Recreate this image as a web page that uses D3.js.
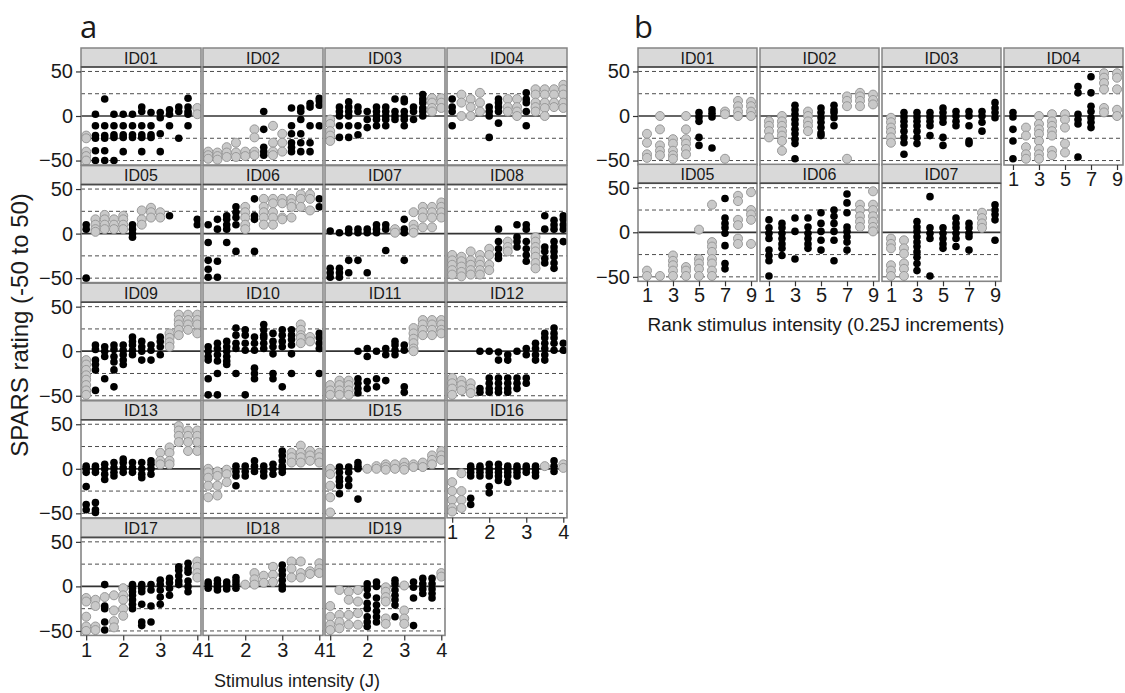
<!DOCTYPE html>
<html>
<head>
<meta charset="utf-8">
<script src="https://cdn.jsdelivr.net/npm/d3@7"></script>
<style>
body { margin: 0; background: #fff; }
text { font-family: "Liberation Sans", Arial, sans-serif; fill: #1a1a1a; }
</style>
</head>
<body>
<script>
//each panel: [intensity, group, ratings]  group 'k' = black, 'g' = grey
var a01 = [[1,'g',[-22,-25,-40,-45,-50]],[1.25,'k',[2,-11,-22,-25,-39,-50]],[1.5,'k',[19,-11,-22,-25,-39,-50]],[1.75,'k',[2,-11,-21,-24,-50]],[2,'k',[2,-11,-21,-24,-40]],[2.25,'k',[2,-11,-21,-24]],[2.5,'k',[10,5,-11,-21,-24,-40]],[2.75,'k',[4,-11,-21,-24]],[3,'k',[4,-2,-20,-40]],[3.25,'k',[7,2,-11]],[3.5,'k',[10,5,-25]],[3.75,'k',[20,10,5,2,-11]],[4,'g',[9,2]]];
var a02 = [[1,'g',[-40,-44,-48]],[1.25,'g',[-41,-45,-49]],[1.5,'g',[-35,-41,-46]],[1.75,'g',[-30,-41,-46]],[2,'g',[-40,-45]],[2.25,'g',[-15,-24,-40,-44]],[2.5,'k',[5,-15,-35,-40,-44]],[2.75,'g',[-11,-30,-40,-44]],[3,'g',[-20,-30,-40]],[3.25,'k',[9,-11,-20,-30,-35,-40]],[3.5,'k',[9,5,-4,-20,-30,-40]],[3.75,'k',[14,10,-11,-30,-40]],[4,'k',[20,17,12,-11]]];
var a03 = [[1,'g',[-4,-9,-17,-22,-28]],[1.25,'k',[10,5,0,-11,-24]],[1.5,'k',[16,10,5,0,-11,-24]],[1.75,'k',[10,5,-11,-21]],[2,'k',[5,-4,-13]],[2.25,'k',[10,5,0,-4,-11]],[2.5,'k',[10,5,0,-4,-11]],[2.75,'k',[19,5,0,-4]],[3,'k',[19,16,5,0,-4,-11]],[3.25,'k',[10,5,-4]],[3.5,'k',[24,19,15,9,5,0]],[3.75,'g',[20,15,9,5]],[4,'g',[20,15,9]]];
var a04 = [[1,'k',[19,10,5,-11]],[1.25,'g',[24,15,0]],[1.5,'g',[19,10,0]],[1.75,'g',[26,15,5]],[2,'k',[10,5,0,-24]],[2.25,'k',[19,15,10,5,-8]],[2.5,'g',[19,10,5]],[2.75,'g',[19,10,5,0]],[3,'k',[26,19,15,5,-11]],[3.25,'g',[30,24,15,10,5]],[3.5,'g',[30,24,15,9,0]],[3.75,'g',[30,24,15,10]],[4,'g',[35,30,24,15,9]]];
var a05 = [[1,'k',[10,5,-50]],[1.25,'g',[16,10,5,2]],[1.5,'g',[21,16,10,5]],[1.75,'g',[16,10,5]],[2,'g',[20,16,10,5]],[2.25,'k',[10,5,0,-4]],[2.5,'g',[26,16,10]],[2.75,'g',[29,24,18]],[3,'g',[24,18]],[3.25,'k',[20]],[4,'k',[16,10]]];
var a06 = [[1,'k',[10,-10,-30,-40,-49]],[1.25,'k',[16,5,-31,-49]],[1.5,'k',[20,16,10,5,-10]],[1.75,'k',[30,24,18,10,-20]],[2,'g',[30,24,18,10,5]],[2.25,'k',[39,20,16,-20]],[2.5,'g',[39,30,24,18,10]],[2.75,'g',[39,34,24,18,10]],[3,'g',[39,34,18,16]],[3.25,'g',[39,34,30,18]],[3.5,'g',[44,39,30]],[3.75,'g',[44,39,26]],[4,'k',[39,30]]];
var a07 = [[1,'k',[3,-39,-44,-49]],[1.25,'k',[1,-39,-44,-49]],[1.5,'k',[5,1,-30,-44]],[1.75,'k',[5,1,-30]],[2,'k',[5,1,-44]],[2.25,'k',[10,5,1]],[2.5,'k',[10,5,-19]],[2.75,'g',[5,1]],[3,'k',[16,5,1,-30]],[3.25,'g',[24,10,5,1]],[3.5,'g',[30,24,18,7]],[3.75,'g',[30,24,18,7]],[4,'g',[35,30,24,18]]];
var a08 = [[1,'g',[-24,-30,-35,-41,-46]],[1.25,'g',[-26,-31,-37,-43,-48]],[1.5,'g',[-20,-30,-35,-41,-46]],[1.75,'g',[-24,-30,-35,-41,-46]],[2,'g',[-17,-24,-35,-41]],[2.25,'k',[5,-9,-17,-24,-28]],[2.5,'g',[-9,-15,-20]],[2.75,'k',[10,-4,-9,-15]],[3,'k',[10,5,-9,-17,-24,-31]],[3.25,'g',[-4,-9,-15,-20,-26,-33,-39]],[3.5,'k',[20,5,-15,-20,-28,-33]],[3.75,'k',[15,10,5,-9,-15,-20,-26,-33,-39]],[4,'k',[20,16,10,5,-9]]];
var a09 = [[1,'g',[-10,-15,-21,-27,-32,-38,-44,-49]],[1.25,'k',[7,2,-10,-15,-21,-44]],[1.5,'k',[5,0,-6,-31]],[1.75,'k',[7,2,-6,-12,-21,-40]],[2,'k',[7,1,-4,-10,-15]],[2.25,'k',[16,11,7,1,-4]],[2.5,'k',[11,5,0,-10]],[2.75,'k',[7,1,-10]],[3,'k',[16,11,5,-4]],[3.25,'g',[20,15,10,5]],[3.5,'g',[41,35,30,24,18]],[3.75,'g',[41,35,30,24]],[4,'g',[41,35,30,20]]];
var a10 = [[1,'k',[5,0,-6,-10,-31,-49]],[1.25,'k',[9,3,-4,-11,-25,-49]],[1.5,'k',[11,5,0,-6,-11,-15]],[1.75,'k',[26,18,9,3,-25]],[2,'k',[24,18,9,1,-49]],[2.25,'k',[16,9,1,-19,-25,-31]],[2.5,'k',[30,24,18,15,9,3]],[2.75,'k',[20,11,5,-3,-25,-31]],[3,'k',[24,18,11,5,-40]],[3.25,'k',[24,18,13,7,-3,-25]],[3.5,'g',[30,24,18,15,9]],[3.75,'g',[16,11]],[4,'k',[20,15,9,3,-25]]];
var a11 = [[1,'g',[-38,-44,-49]],[1.25,'g',[-33,-38,-44,-49]],[1.5,'g',[-33,-38,-44,-49]],[1.75,'k',[0,-31,-36,-42,-47]],[2,'k',[3,-6,-34,-42]],[2.25,'k',[0,-31,-40]],[2.5,'k',[3,-4,-33]],[2.75,'k',[11,7,1,-4]],[3,'k',[7,1,-40,-46]],[3.25,'g',[26,20,14,9,3,0]],[3.5,'g',[35,30,24,18]],[3.75,'g',[35,30,24,18]],[4,'g',[35,30,24,20]]];
var a12 = [[1,'g',[-30,-36,-42,-49]],[1.25,'g',[-33,-38,-44]],[1.5,'g',[-36,-42,-47]],[1.75,'k',[0,-42,-46]],[2,'k',[0,-30,-36,-42,-46]],[2.25,'k',[-1,-10,-30,-36,-42,-46]],[2.5,'k',[-4,-10,-30,-36,-42,-46]],[2.75,'k',[0,-30,-36,-42]],[3,'k',[3,-4,-30,-36]],[3.25,'k',[9,3,-4,-10]],[3.5,'k',[20,15,9,3,-4,-10]],[3.75,'k',[26,20,15,9,1]],[4,'k',[9,1]]];
var a13 = [[1,'k',[3,0,-4,-20,-40,-46]],[1.25,'k',[3,0,-4,-38,-46,-49]],[1.5,'k',[5,0,-6,-12]],[1.75,'k',[7,1,-4,-8]],[2,'k',[11,7,1,-4]],[2.25,'k',[7,1,-4]],[2.5,'k',[7,0,-6,-10]],[2.75,'k',[9,5,0,-6]],[3,'g',[18,9,5]],[3.25,'g',[24,18,9,5]],[3.5,'g',[48,43,37,30]],[3.75,'g',[43,37,30,20]],[4,'g',[43,37,30,20]]];
var a14 = [[1,'g',[0,-4,-10,-19,-32]],[1.25,'g',[-3,-8,-19,-30]],[1.5,'g',[-1,-6,-15]],[1.75,'k',[3,-3,-8,-19]],[2,'k',[3,-3,-8]],[2.25,'k',[9,3,-3]],[2.5,'k',[3,-3,-8]],[2.75,'k',[5,0,-6]],[3,'k',[20,15,9,3,0,-4]],[3.25,'g',[18,13,7]],[3.5,'g',[26,18,13,7]],[3.75,'g',[20,15,9]],[4,'g',[18,13,7]]];
var a15 = [[1,'g',[0,-6,-19,-32,-49]],[1.25,'k',[2,-4,-10,-14,-19,-28]],[1.5,'k',[2,-4,-12,-19]],[1.75,'k',[7,3,0,-34]],[2,'g',[0]],[2.25,'g',[3,0]],[2.5,'g',[5,2,-1]],[2.75,'g',[5,0]],[3,'g',[7,2,-1]],[3.25,'g',[5,2]],[3.5,'g',[7,2]],[3.75,'g',[15,10,5]],[4,'g',[20,15,10]]];
var a16 = [[1,'g',[-15,-25,-35,-44,-48]],[1.25,'g',[-5,-25,-35,-44]],[1.5,'k',[3,0,-4,-8,-33,-40]],[1.75,'k',[3,0,-4,-8]],[2,'k',[5,0,-4,-8,-20,-27]],[2.25,'k',[5,0,-4,-8,-13]],[2.5,'k',[3,0,-4,-8,-15]],[2.75,'k',[3,0,-4,-8]],[3,'k',[3,0,-4]],[3.25,'k',[3,0,-4,-8]],[3.5,'g',[3]],[3.75,'k',[9,3,-3]],[4,'g',[5,1]]];
var a17 = [[1,'g',[-13,-17,-34,-45,-50]],[1.25,'g',[-15,-22,-45,-49]],[1.5,'k',[2,-22,-25,-40,-49]],[1.5,'g',[-12]],[1.75,'g',[-10,-27,-39,-46]],[2,'g',[-2,-10,-15,-25,-33]],[2.25,'k',[2,-2,-6,-10,-15,-20,-25]],[2.5,'k',[2,-2,-6,-20,-40,-44]],[2.75,'k',[2,-4,-22,-40]],[3,'k',[7,2,-4,-12,-20]],[3.25,'k',[9,4,-2,-10]],[3.5,'k',[22,18,12,6,2]],[3.75,'k',[26,20,16,6,0,-6]],[4,'g',[28,22,15,10]]];
var a18 = [[1,'k',[5,2,-2]],[1.25,'k',[7,3,-1,-4]],[1.5,'k',[5,1,-3]],[1.75,'k',[10,6,2,-2]],[2,'g',[2]],[2.25,'g',[15,8,2]],[2.5,'g',[12,4]],[2.75,'g',[22,13,5]],[3,'k',[24,18,13,7,1,-3]],[3.25,'g',[28,20,10]],[3.5,'g',[28,15,10]],[3.75,'g',[17,14]],[4,'g',[26,20,15]]];
var a19 = [[1,'g',[-22,-34,-43,-49]],[1.25,'g',[-4,-32,-40,-47]],[1.5,'g',[-6,-15,-32,-43]],[1.75,'g',[-4,-17,-30,-43]],[2,'k',[3,-3,-10,-19,-25,-34,-40,-45]],[2.25,'k',[5,0,-13,-21,-28,-34,-40]],[2.5,'g',[-1,-6,-12,-17,-36,-42]],[2.75,'k',[7,3,-4,-10,-15,-21,-34]],[3,'g',[1,-27,-36,-42]],[3.25,'k',[5,-1,-13,-44]],[3.5,'k',[9,3,-3,-8]],[3.75,'k',[9,3,-3,-8,-13]],[4,'g',[15,11]]];

//panel b: [rank, group, ratings]
var b01 = [[1,'g',[-20,-30,-43,-47]],[2,'g',[0,-15,-33,-39,-44]],[3,'g',[-26,-31,-39,-44,-48]],[4,'g',[0,-15,-26,-31,-37,-43]],[5,'k',[4,-1,-6,-24,-33]],[6,'k',[7,3,-1,-36]],[7,'g',[5,2,-48]],[8,'g',[17,11,5,0]],[9,'g',[16,11,5,0]]];
var b02 = [[1,'g',[-6,-11,-17,-24]],[2,'g',[0,-6,-11,-17,-22,-28,-39]],[3,'k',[12,7,2,-4,-9,-15,-20,-26,-31,-48]],[4,'g',[5,0,-6,-11,-17]],[5,'k',[9,4,-2,-7,-13,-19,-22]],[6,'k',[12,7,4,-2,-11]],[7,'g',[22,17,11,-48]],[8,'g',[26,22,17,11]],[9,'g',[24,18,13]]];
var b03 = [[1,'g',[-2,-7,-13,-18,-24,-30]],[2,'k',[4,-1,-6,-11,-17,-24,-30,-43]],[3,'k',[4,-1,-6,-11,-17,-24,-31]],[4,'k',[4,-1,-6,-11,-22]],[5,'k',[9,4,-2,-7,-24,-33]],[6,'k',[5,0,-6,-11]],[7,'k',[5,0,-11,-28,-31]],[8,'k',[5,0,-7,-17]],[9,'k',[15,9,4,-2]]];
var b04 = [[1,'k',[4,-1,-15,-28,-48]],[2,'g',[-13,-22,-35,-43,-48]],[3,'g',[0,-9,-15,-20,-28,-37,-43,-48]],[4,'g',[2,-6,-11,-17,-22,-39,-44]],[5,'g',[2,-4,-13,-31,-41]],[6,'k',[33,26,2,-4,-9,-46]],[7,'k',[44,26,11,5,-2,-7,-13]],[8,'g',[48,43,37,30,9,4]],[9,'g',[48,43,30,7,0]]];
var b05 = [[1,'g',[-43,-49]],[2,'g',[-49]],[3,'g',[-26,-32,-37,-43,-49]],[4,'g',[-39,-43,-49]],[5,'g',[3,-30,-35,-41,-49]],[6,'g',[31,-11,-16,-22,-30,-35,-43,-49]],[7,'k',[38,16,10,5,-1,-15,-35,-41]],[8,'g',[41,35,14,8,-7,-13]],[9,'g',[45,25,20,14,-13]]];
var b06 = [[1,'k',[14,5,-1,-7,-20,-26,-32,-49]],[2,'k',[10,5,-1,-7,-13,-18,-26]],[3,'k',[16,1,-30]],[4,'k',[16,6,-1,-7,-13,-18]],[5,'k',[22,10,1,-9,-20]],[6,'k',[25,18,10,1,-9,-32]],[7,'k',[43,33,22,6,1,-5,-11,-20]],[8,'g',[31,25,18,12,6]],[9,'g',[46,31,25,18,12,6,1]]];
var b07 = [[1,'g',[-7,-13,-18,-37,-43,-49]],[2,'g',[-9,-18,-24,-35,-41,-49]],[3,'k',[12,6,1,-5,-11,-16,-22,-28,-35,-43]],[4,'k',[40,5,-1,-7,-49]],[5,'k',[5,-1,-7,-13,-18]],[6,'k',[16,10,5,-1,-7,-16]],[7,'k',[10,5,-1,-5,-20]],[8,'g',[22,16,10,5]],[9,'k',[31,25,20,14,-9]]];

var aIds = ["ID01","ID02","ID03","ID04","ID05","ID06","ID07","ID08","ID09","ID10","ID11","ID12","ID13","ID14","ID15","ID16","ID17","ID18","ID19"];
var aData = [a01,a02,a03,a04,a05,a06,a07,a08,a09,a10,a11,a12,a13,a14,a15,a16,a17,a18,a19];
var bIds = ["ID01","ID02","ID03","ID04","ID05","ID06","ID07"];
var bData = [b01,b02,b03,b04,b05,b06,b07];

var aXTicks = [1, 2, 3, 4],
	bXTicks = [1, 3, 5, 7, 9],
	yTicks = [-50, 0, 50],
	dashLevels = [-50, -25, 25, 50];

var width = 1125, height = 693;

var svg = d3.select("body").append("svg")
	.attr("width", width)
	.attr("height", height);

//draw one faceted block of panels
function facet(cfg){
	var n = cfg.ids.length,
		stripH = 19,
		plotH = 98;

	var x = d3.scaleLinear().domain(cfg.xDomain).range([0, cfg.panelW]);
	var y = d3.scaleLinear().domain([-55, 55]).range([plotH, 0]);

	cfg.ids.forEach(function(id, i){
		var col = i % 4,
			row = Math.floor(i / 4),
			gx = cfg.left + col * cfg.colStep,
			gy = cfg.top + row * cfg.rowStep;

		var g = svg.append("g").attr("transform", "translate(" + gx + "," + gy + ")");

		//strip
		g.append("rect")
			.attr("width", cfg.panelW).attr("height", stripH)
			.attr("fill", "#d9d9d9").attr("stroke", "#858585").attr("stroke-width", 1.5);
		g.append("text")
			.attr("x", cfg.panelW / 2).attr("y", stripH / 2 + 6)
			.attr("text-anchor", "middle")
			.style("font-size", "16px")
			.text(id);

		var p = g.append("g").attr("transform", "translate(0," + stripH + ")");
		var clipId = "clip-" + cfg.key + i;
		p.append("clipPath").attr("id", clipId)
			.append("rect").attr("width", cfg.panelW).attr("height", plotH);

		p.append("rect").attr("width", cfg.panelW).attr("height", plotH).attr("fill", "#fff");

		//dashed reference lines
		p.selectAll(".dash").data(dashLevels).enter().append("line")
			.attr("x1", 0).attr("x2", cfg.panelW)
			.attr("y1", function(d){ return y(d); })
			.attr("y2", function(d){ return y(d); })
			.attr("stroke", "#4d4d4d").attr("stroke-width", 1)
			.attr("stroke-dasharray", "4,3");
		p.append("line")
			.attr("x1", 0).attr("x2", cfg.panelW)
			.attr("y1", y(0)).attr("y2", y(0))
			.attr("stroke", "#333").attr("stroke-width", 1.7);

		//points
		var pts = [];
		cfg.data[i].forEach(function(c){
			c[2].forEach(function(v){ pts.push({x: c[0], y: v, g: c[1]}); });
		});
		var pg = p.append("g").attr("clip-path", "url(#" + clipId + ")");
		pg.selectAll(".grey").data(pts.filter(function(d){ return d.g === 'g'; }))
			.enter().append("circle")
			.attr("cx", function(d){ return x(d.x); })
			.attr("cy", function(d){ return y(d.y); })
			.attr("r", 4.5)
			.attr("fill", "#c9c9c9").attr("stroke", "#999").attr("stroke-width", 1);
		pg.selectAll(".blk").data(pts.filter(function(d){ return d.g === 'k'; }))
			.enter().append("circle")
			.attr("cx", function(d){ return x(d.x); })
			.attr("cy", function(d){ return y(d.y); })
			.attr("r", 3.8)
			.attr("fill", "#000");

		//panel border and strip separator
		p.append("rect").attr("width", cfg.panelW).attr("height", plotH)
			.attr("fill", "none").attr("stroke", "#858585").attr("stroke-width", 1.6);
		g.append("line")
			.attr("x1", 0).attr("x2", cfg.panelW)
			.attr("y1", stripH).attr("y2", stripH)
			.attr("stroke", "#4a4a4a").attr("stroke-width", 1.5);

		//axes
		if (col === 0) {
			var ya = p.append("g")
				.call(d3.axisLeft(y).tickValues(yTicks).tickSize(5).tickPadding(3).tickFormat(d3.format("d")));
			ya.select(".domain").remove();
			ya.selectAll("line").attr("stroke", "#333").attr("stroke-width", 1.2);
			ya.selectAll("text").style("font-size", "20px").attr("fill", "#1a1a1a");
		}
		if (i + 4 >= n) {
			var xa = p.append("g").attr("transform", "translate(0," + plotH + ")")
				.call(d3.axisBottom(x).tickValues(cfg.xTicks).tickSize(5).tickPadding(2).tickFormat(d3.format("d")));
			xa.select(".domain").remove();
			xa.selectAll("line").attr("stroke", "#333").attr("stroke-width", 1.2);
			xa.selectAll("text").style("font-size", "20px").attr("fill", "#1a1a1a");
		}
	});
}

facet({key: "a", ids: aIds, data: aData, left: 81, top: 48, colStep: 122, rowStep: 117.6,
	panelW: 120, xDomain: [0.86, 4.1], xTicks: aXTicks});
facet({key: "b", ids: bIds, data: bData, left: 638, top: 48, colStep: 122, rowStep: 116.3,
	panelW: 119, xDomain: [0.31, 9.46], xTicks: bXTicks});

//panel letters
svg.append("text").attr("x", 80).attr("y", 38)
	.style("font-family", "'Open Sans', sans-serif").style("font-size", "31px").text("a");
svg.append("text").attr("x", 634).attr("y", 38)
	.style("font-family", "'Open Sans', sans-serif").style("font-size", "31px").text("b");

//axis titles
svg.append("text")
	.attr("transform", "translate(28,325) rotate(-90)")
	.attr("text-anchor", "middle")
	.style("font-size", "24px")
	.text("SPARS rating (-50 to 50)");
svg.append("text")
	.attr("x", 297).attr("y", 687)
	.attr("text-anchor", "middle")
	.style("font-size", "18px")
	.text("Stimulus intensity (J)");
svg.append("text")
	.attr("x", 826).attr("y", 331)
	.attr("text-anchor", "middle")
	.style("font-size", "19px")
	.text("Rank stimulus intensity (0.25J increments)");
</script>
</body>
</html>
